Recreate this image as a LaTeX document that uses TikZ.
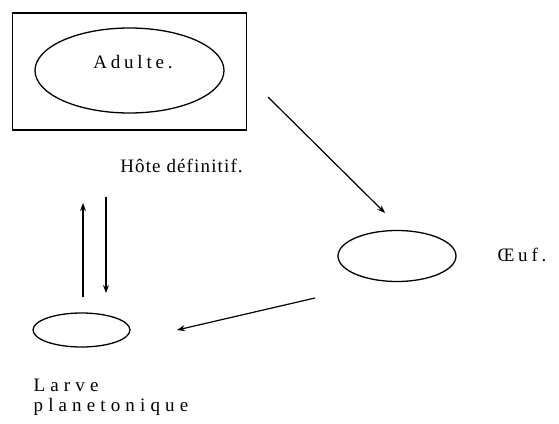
\documentclass[tikz,border=0pt]{standalone}
\usepackage{fontspec}
\setmainfont{Liberation Serif}[LetterSpace=20]
\usetikzlibrary{shapes.geometric,arrows.meta}
\begin{document}
\begin{tikzpicture}[x=1pt,y=-1pt,
  line width=1.3pt,
  oval/.style={draw,ellipse,inner sep=0pt},
  lbl/.style={inner sep=0pt,font=\fontsize{19}{20}\selectfont},
  arr/.style={-{Stealth[length=8pt,width=6pt]},line width=1.2pt}]
\useasboundingbox (0,0) rectangle (559,423);
% host box
\node[draw,inner sep=0pt,minimum width=234pt,minimum height=117pt] (host) at (129.5,71.5) {};
\node[oval,minimum width=189pt,minimum height=85pt] (adulte) at (129.5,70.5) {};
\node[lbl] (adultelbl) at (133,62) {Adulte.};
\node[lbl,font=\fontsize{19}{20}\selectfont\addfontfeature{LetterSpace=6}] (hote) at (181.5,166) {Hôte définitif.};
% egg
\node[oval,minimum width=118pt,minimum height=51pt] (oeuf) at (397,256) {};
\node[lbl] (oeuflbl) at (522,255) {Œuf.};
% larva
\node[oval,minimum width=97pt,minimum height=34pt] (larve) at (81.5,330) {};
\node[lbl,font=\fontsize{19}{20}\selectfont\addfontfeature{LetterSpace=27},align=left,anchor=north west] (larvelbl) at (33,378) {Larve\\planetonique};
% arrow end points
\coordinate (a1) at (268,97);
\coordinate (a2) at (385,213);
\coordinate (b1) at (315,298);
\coordinate (b2) at (177,330);
\coordinate (u1) at (83,297);
\coordinate (u2) at (83,203);
\coordinate (d1) at (106,197);
\coordinate (d2) at (106,293);
\draw[arr] (a1) -- (a2);
\draw[arr] (b1) -- (b2);
\draw[arr] (u1) -- (u2);
\draw[arr] (d1) -- (d2);
\end{tikzpicture}
\end{document}
